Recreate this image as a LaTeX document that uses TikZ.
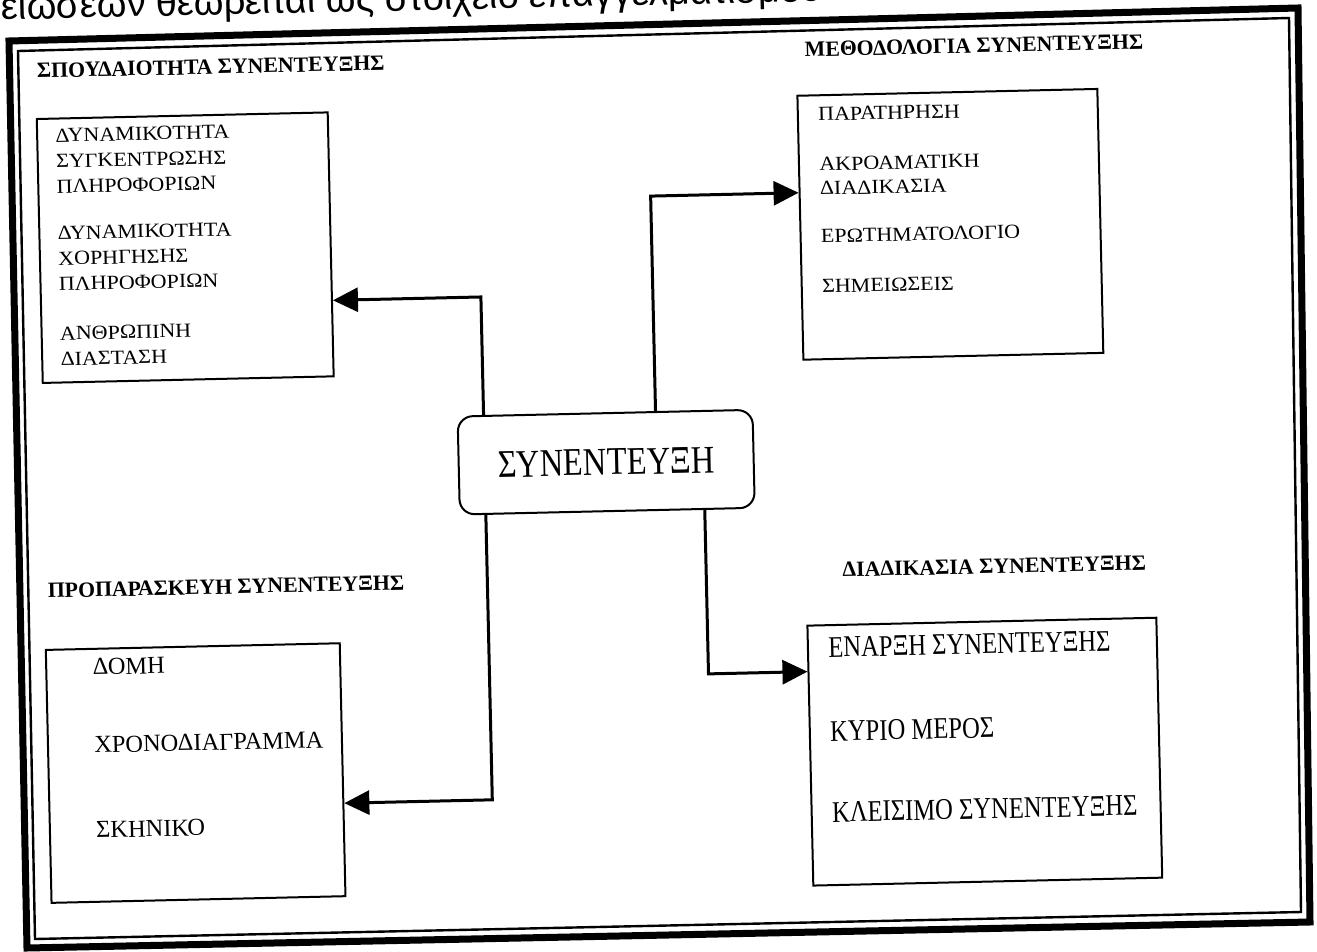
\documentclass[tikz,border=0pt]{standalone}
\usepackage{fontspec}
\setmainfont{Liberation Serif}
\newfontfamily\fsmall[FakeStretch=1.1]{Liberation Serif}
\newfontfamily\fcond[FakeStretch=0.82]{Liberation Serif}
\newfontfamily\fmain[FakeStretch=0.83]{Liberation Serif}
\newfontfamily\ftop{Liberation Sans}
\usetikzlibrary{arrows.meta}
\begin{document}
\begin{tikzpicture}[x=0.5pt,y=-0.5pt,
  bx/.style={draw, line width=1pt, inner sep=0pt, anchor=north west},
  txt/.style={inner sep=0pt, anchor=base west},
  hd/.style={inner sep=0pt, anchor=base west, font=\bfseries\fontsize{10.9}{12}\selectfont},
  arr/.style={line width=1.5pt, -{Triangle[length=12.5pt,width=12pt]}}]
\useasboundingbox (0,0) rectangle (1317,952);
\clip (0,0) rectangle (1317,952);
% double frame (drawn as scanned)
\draw[line width=3.5pt, line join=miter] (9,41) -- (1298,8) -- (1310,922) -- (27,948) -- cycle;
\draw[line width=1.2pt] (18,51) -- (1289,18) -- (1301,912) -- (35,939) -- cycle;
\begin{scope}[rotate around={1.3:(658,476)}, transform shape]
% text line of the page above the figure
\node[anchor=base west, inner sep=0pt, font=\ftop\fontsize{19}{22}\selectfont] (tt) at (12,5) {ειώσεων θεωρείται ως στοιχείο επαγγελματισμού};
% headers
\node[hd] (h1) at (46,64) {ΣΠΟΥΔΑΙΟΤΗΤΑ ΣΥΝΕΝΤΕΥΞΗΣ};
\node[hd] (h2) at (814,60) {ΜΕΘΟΔΟΛΟΓΙΑ ΣΥΝΕΝΤΕΥΞΗΣ};
\node[hd] (h3) at (45,584) {ΠΡΟΠΑΡΑΣΚΕΥΗ ΣΥΝΕΝΤΕΥΞΗΣ};
\node[hd] (h4) at (840,581) {ΔΙΑΔΙΚΑΣΙΑ ΣΥΝΕΝΤΕΥΞΗΣ};
% boxes
\node[bx, minimum width=145.5pt, minimum height=132pt] (sp) at (44,104) {};
\node[bx, minimum width=150pt, minimum height=132pt] (me) at (805,98) {};
\node[bx, minimum width=147pt, minimum height=126.5pt] (pr) at (41,635) {};
\node[bx, minimum width=174.5pt, minimum height=130pt] (di) at (803,628) {};
\node[bx, anchor=center, rounded corners=7.5pt, minimum width=147.5pt, minimum height=49pt,
      font=\fmain\fontsize{19.6}{22}\selectfont] (c) at (606.5,461) {ΣΥΝΕΝΤΕΥΞΗ};
% box texts
\node[txt] (spt) at (63,128.6) {\parbox[t]{150pt}{\fsmall\fontsize{10}{12.75}\selectfont
ΔΥΝΑΜΙΚΟΤΗΤΑ\\ΣΥΓΚΕΝΤΡΩΣΗΣ\\ΠΛΗΡΟΦΟΡΙΩΝ\\[10.5pt]
ΔΥΝΑΜΙΚΟΤΗΤΑ\\ΧΟΡΗΓΗΣΗΣ\\ΠΛΗΡΟΦΟΡΙΩΝ\\[12pt]
ΑΝΘΡΩΠΙΝΗ\\ΔΙΑΣΤΑΣΗ}};
\node[txt] (met) at (826,124.6) {\parbox[t]{150pt}{\fsmall\fontsize{10}{12}\selectfont
ΠΑΡΑΤΗΡΗΣΗ\\[13pt]ΑΚΡΟΑΜΑΤΙΚΗ\\ΔΙΑΔΙΚΑΣΙΑ\\[12pt]ΕΡΩΤΗΜΑΤΟΛΟΓΙΟ\\[13pt]ΣΗΜΕΙΩΣΕΙΣ}};
\node[txt] (prt) at (88,662) {\parbox[t]{150pt}{\fontsize{12.2}{14}\selectfont
ΔΟΜΗ\\[25pt]ΧΡΟΝΟΔΙΑΓΡΑΜΜΑ\\[28.5pt]ΣΚΗΝΙΚΟ}};
\node[txt] (dit) at (824,661) {\parbox[t]{180pt}{\fcond\fontsize{15}{17}\selectfont
ΕΝΑΡΞΗ ΣΥΝΕΝΤΕΥΞΗΣ\\[25pt]ΚΥΡΙΟ ΜΕΡΟΣ\\[23.5pt]ΚΛΕΙΣΙΜΟ ΣΥΝΕΝΤΕΥΞΗΣ}};
% connectors
\coordinate (k1) at (485,293);
\coordinate (k2) at (657,196);
\coordinate (k3) at (485,796);
\coordinate (k4) at (704,675);
\draw[arr] (k1 |- c.north) -- (k1) -- (k1 -| sp.east);
\draw[arr] (k2 |- c.north) -- (k2) -- (k2 -| me.west);
\draw[arr] (k3 |- c.south) -- (k3) -- (k3 -| pr.east);
\draw[arr] (k4 |- c.south) -- (k4) -- (k4 -| di.west);
\end{scope}
\end{tikzpicture}
\end{document}
